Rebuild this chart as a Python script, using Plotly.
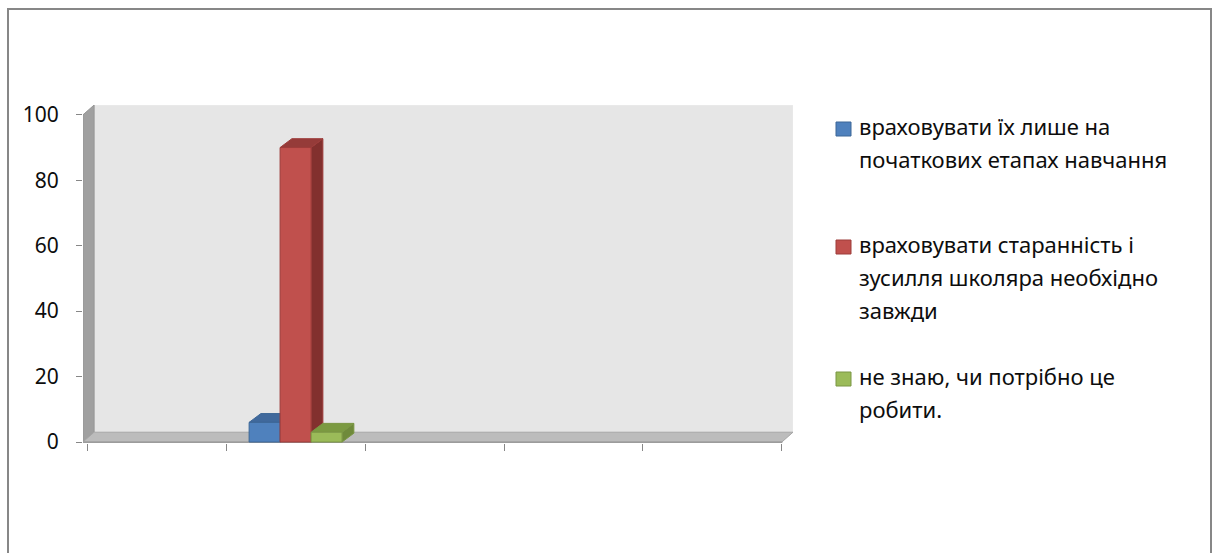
import plotly.graph_objects as go

# ---- data ----
categories = [0.5, 1.5, 2.5, 3.5, 4.5]
series_names = [
    "враховувати їх лише на початкових етапах навчання",
    "враховувати старанність і зусилля школяра необхідно завжди",
    "не знаю, чи потрібно це робити.",
]
legend_lines = [
    ["враховувати їх лише на", "початкових етапах навчання"],
    ["враховувати старанність і", "зусилля школяра необхідно", "завжди"],
    ["не знаю, чи потрібно це", "робити."],
]
values_blue = [None, 6, None, None, None]
values_red = [None, 90, None, None, None]
values_green = [None, 3, None, None, None]
y_tick_values = [0, 20, 40, 60, 80, 100]
x_tick_values = [0, 1, 2, 3, 4, 5]

series_values = [values_blue, values_red, values_green]

# ---- styling ----
front_colors = ["#4f81bd", "#c0504d", "#9bbb59"]
side_colors = ["#3a6190", "#82302e", "#6f8a3b"]
top_colors = ["#40699c", "#953b39", "#7b9a41"]
edge_colors = ["#3d6797", "#9d3c3a", "#7a9644"]

W, H = 1216, 553
ML, MR, MT, MB = 83, 423, 105, 110
PW, PH = W - ML - MR, H - MT - MB
X_RANGE = [-0.03, 5.08]
Y_RANGE = [-0.3, 103]
WALL_DX, WALL_DY = 0.08, 3.0
BAR_DX, BAR_DY = 0.085, 2.7
BAR_GAP = 0.331
FONT = "Noto Sans"
TEXT_COLOR = "#0d0d0d"


def px_x(p):
    return (p - ML) / PW


def px_y(p):
    return (H - MB - p) / PH


def poly(points):
    return "M " + " L ".join(f"{x},{y}" for x, y in points) + " Z"


fig = go.Figure()

for name, vals, fc, ec in zip(series_names, series_values, front_colors, edge_colors):
    fig.add_trace(go.Bar(
        x=categories, y=vals, name=name,
        marker=dict(color=fc, line=dict(color=ec, width=1)),
        showlegend=False,
    ))

shapes = []

# back wall, side wall and floor of the 3D box
x_left, x_right = X_RANGE[0], 5
shapes.append(dict(type="path", xref="x", yref="y", layer="below",
                   path=poly([(x_left + WALL_DX, WALL_DY), (x_left + WALL_DX, 100 + WALL_DY),
                              (x_right + WALL_DX, 100 + WALL_DY), (x_right + WALL_DX, WALL_DY)]),
                   fillcolor="#e6e6e6", line=dict(color="#ebebeb", width=1)))
shapes.append(dict(type="path", xref="x", yref="y", layer="below",
                   path=poly([(x_left, 0), (x_left, 100), (x_left + WALL_DX, 100 + WALL_DY),
                              (x_left + WALL_DX, WALL_DY)]),
                   fillcolor="#a0a0a0", line=dict(color="#969696", width=1)))
shapes.append(dict(type="path", xref="x", yref="y", layer="below",
                   path=poly([(x_left, 0), (x_right, 0), (x_right + WALL_DX, WALL_DY),
                              (x_left + WALL_DX, WALL_DY)]),
                   fillcolor="#bcbcbc", line=dict(color="#a6a6a6", width=1)))
shapes.append(dict(type="path", xref="x", yref="y", layer="below",
                   path=poly([(x_left, Y_RANGE[0]), (x_right, Y_RANGE[0]), (x_right, 0), (x_left, 0)]),
                   fillcolor="#9c9c9c", line=dict(color="#9c9c9c", width=1)))

# side and top faces of every bar, derived from the grouped-bar geometry
n_series = len(series_values)
bar_w = (1 - BAR_GAP) / n_series
for i, vals in enumerate(series_values):
    for cx, v in zip(categories, vals):
        if v is None:
            continue
        x0 = cx - (1 - BAR_GAP) / 2 + i * bar_w
        x1 = x0 + bar_w
        shapes.append(dict(type="path", xref="x", yref="y", layer="below",
                           path=poly([(x1, 0), (x1, v), (x1 + BAR_DX, v + BAR_DY), (x1 + BAR_DX, BAR_DY)]),
                           fillcolor=side_colors[i], line=dict(color=edge_colors[i], width=1)))
        shapes.append(dict(type="path", xref="x", yref="y", layer="below",
                           path=poly([(x0, v), (x1, v), (x1 + BAR_DX, v + BAR_DY), (x0 + BAR_DX, v + BAR_DY)]),
                           fillcolor=top_colors[i], line=dict(color=edge_colors[i], width=1)))

# outer chart border
shapes.append(dict(type="rect", xref="paper", yref="paper",
                   x0=px_x(8), x1=px_x(1211), y0=px_y(565), y1=px_y(9),
                   line=dict(color="#878787", width=2), fillcolor="rgba(0,0,0,0)"))

# legend: coloured keys with wrapped labels
annotations = []
first_line_y = [126, 244, 376]
line_step = 33
for i, lines in enumerate(legend_lines):
    y0 = first_line_y[i]
    shapes.append(dict(type="rect", xref="paper", yref="paper",
                       x0=px_x(836), x1=px_x(851), y0=px_y(y0 + 10), y1=px_y(y0 - 4),
                       fillcolor=front_colors[i], line=dict(color=edge_colors[i], width=1)))
    for k, text in enumerate(lines):
        annotations.append(dict(xref="paper", yref="paper", x=px_x(857), y=px_y(y0 + k * line_step),
                                xanchor="left", yanchor="middle", text=text, showarrow=False,
                                font=dict(family=FONT, size=22, color=TEXT_COLOR)))

fig.update_layout(
    width=W, height=H,
    margin=dict(l=ML, r=MR, t=MT, b=MB),
    paper_bgcolor="white", plot_bgcolor="rgba(0,0,0,0)",
    barmode="group", bargap=BAR_GAP, bargroupgap=0,
    showlegend=False,
    shapes=shapes, annotations=annotations,
    xaxis=dict(range=X_RANGE, tickvals=x_tick_values, showticklabels=False,
               ticks="outside", ticklen=7, tickcolor="#878787", tickwidth=1,
               showgrid=False, zeroline=False, showline=False, fixedrange=True),
    yaxis=dict(range=Y_RANGE, tickvals=y_tick_values, ticks="outside", ticklen=6,
               tickcolor="#878787", tickwidth=1, ticklabelstandoff=13,
               tickfont=dict(family=FONT, size=21, color=TEXT_COLOR),
               showgrid=False, zeroline=False, showline=False, fixedrange=True),
)

fig.write_html("out.html")
